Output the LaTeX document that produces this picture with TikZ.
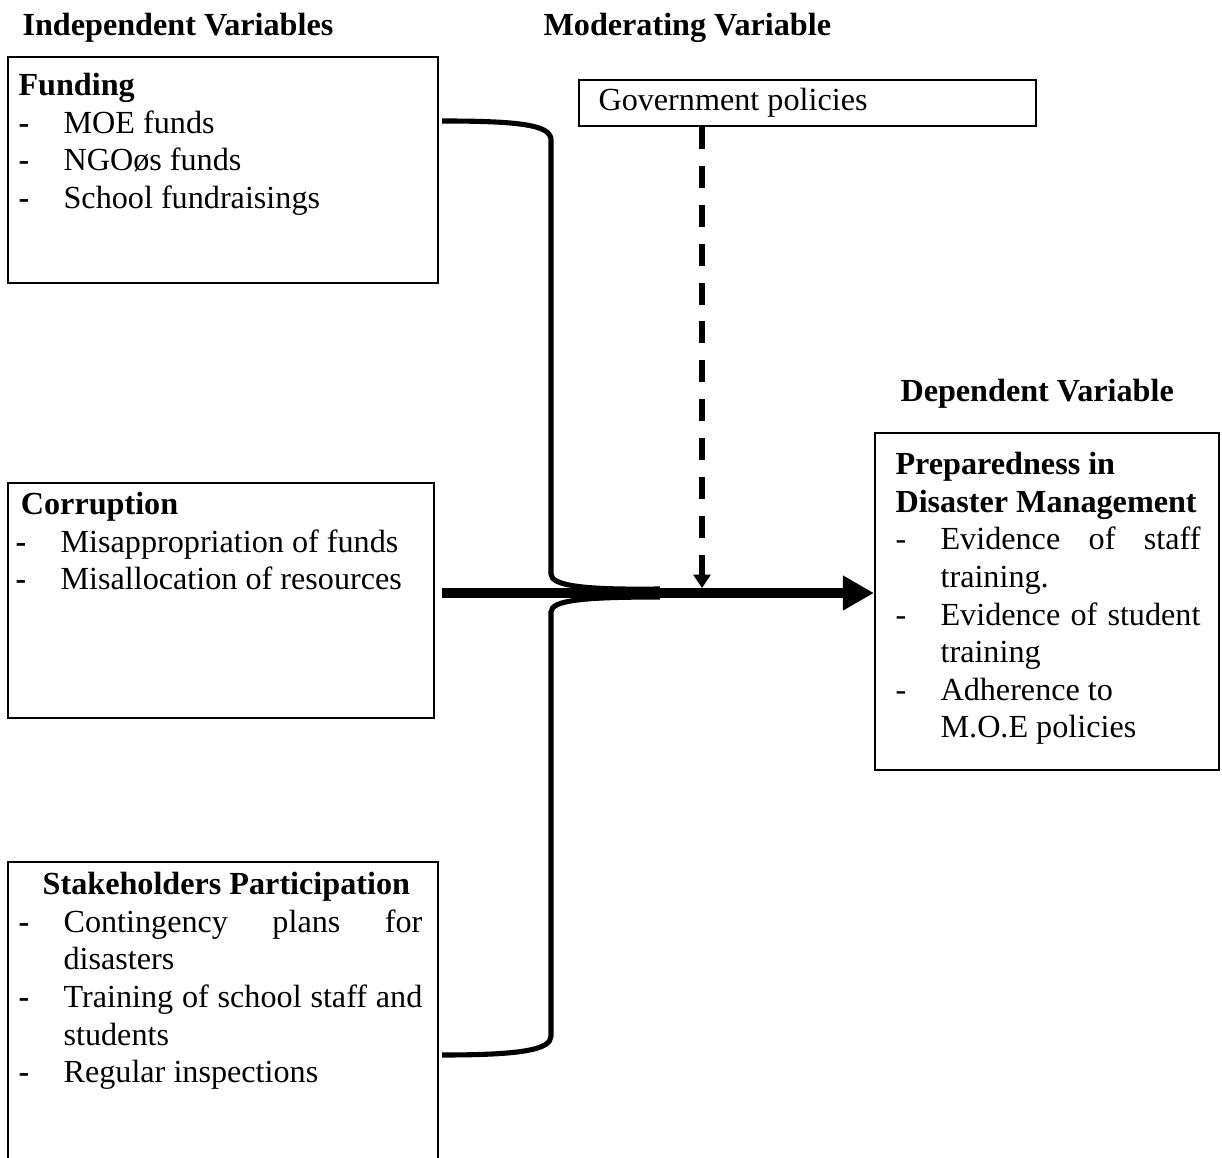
\documentclass[tikz,border=0pt]{standalone}
\usepackage{fontspec}
\setmainfont{Liberation Serif}
\usetikzlibrary{arrows.meta,fit}
\newcommand{\dashline}[2][-]{\par\hangindent=16.8pt\hangafter=1\noindent\makebox[16.8pt][l]{#1}#2}
\tikzset{
	box/.style={draw,line width=0.8pt,inner sep=0pt},
	txt/.style={inner sep=0pt,anchor=north west,align=justify,font=\fontsize{12}{14}\selectfont},
	title/.style={inner sep=0pt,anchor=north west,font=\fontsize{12}{14}\selectfont\bfseries},
	brace/.style={line width=1.9pt},
	bigarrow/.style={line width=3.7pt,-{Triangle[length=11.6pt,width=12.3pt]}},
	modarrow/.style={line width=1.9pt,dash pattern=on 8.2pt off 6.3pt,-{Triangle[length=5pt,width=6.3pt]}}
}
\begin{document}
\begin{tikzpicture}[x=0.0131cm,y=-0.0131cm]
	\useasboundingbox (0,0) rectangle (1222,1158);
	\clip (0,0) rectangle (1222,1158);

	\node[title] (indep) at (22,13) {Independent Variables};
	\node[title] (moder) at (543,13) {Moderating Variable};
	\node[title] (depen) at (900,379) {Dependent Variable};

	\node[box,fit={(8,57) (438,283)}] (fund) {};
	\node[box,fit={(579,80) (1036,126)}] (gov) {};
	\node[box,fit={(8,483) (434,718)}] (corr) {};
	\node[box,fit={(8,862) (438,1200)}] (stake) {};
	\node[box,fit={(875,433) (1219,770)}] (dep) {};

	\node[txt,text width=150pt] (fundtxt) at (18,73) {\noindent\textbf{Funding}
		\dashline[\textbf{-}]{MOE funds}
		\dashline[\textbf{-}]{NGOøs funds}
		\dashline[\textbf{-}]{School fundraisings}\par};
	\node[txt] (govtxt) at (598,88) {Government policies};
	\node[txt,text width=155pt] (corrtxt) at (15,492) {\noindent\hspace*{2pt}\textbf{Corruption}
		\dashline[\textbf{-}]{Misappropriation of funds}
		\dashline[\textbf{-}]{Misallocation of resources}\par};
	\node[txt,text width=150.6pt] (staketxt) at (18,872) {\noindent\hspace*{9pt}\textbf{Stakeholders Participation}
		\dashline[\textbf{-}]{Contingency plans for\linebreak disasters}
		\dashline[\textbf{-}]{Training of school staff and\linebreak students}
		\dashline[\textbf{-}]{Regular inspections}\par};
	\node[txt,text width=113.7pt] (deptxt) at (895,452) {\noindent\textbf{Preparedness in\hfil\break Disaster Management}
		\dashline{Evidence of staff\linebreak training.}
		\dashline{Evidence of student\linebreak training}
		\dashline{Adherence to\hfil\break M.O.E policies}\par};

	\coordinate (ftop) at (442,121);
	\coordinate (slow) at (442,1055);
	\coordinate (mid) at (442,593);
	\coordinate (join) at (660,593);
	\coordinate (mod) at (702,588);

\draw[brace] (ftop) .. controls (520,121) and (551,125) .. (551,140) -- (551,574) .. controls (551,586) and (585,590) .. ([yshift=1.5]join);
\draw[brace] ([yshift=-1.5]join) .. controls (585,597) and (551,600) .. (551,612) -- (551,1036) .. controls (551,1050) and (520,1055) .. (slow);
\draw[bigarrow] (mid) -- (mid -| dep.west);
\draw[modarrow] (mod |- gov.south) -- (mod);
\end{tikzpicture}
\end{document}
